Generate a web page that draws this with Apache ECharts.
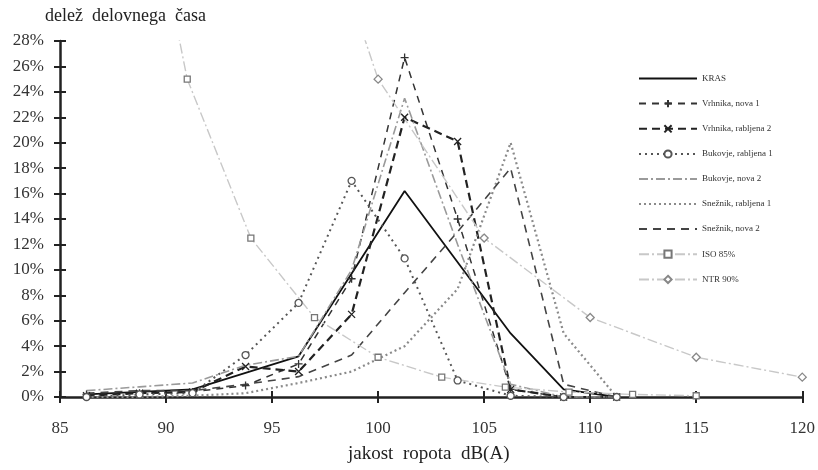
<!DOCTYPE html>
<html>
<head>
<meta charset="utf-8">
<script src="https://cdn.jsdelivr.net/npm/echarts@6/dist/echarts.min.js"></script>
<style>
  html, body { margin: 0; padding: 0; background: #fff; }
  #chart { width: 818px; height: 470px; }
</style>
</head>
<body>
<div id="chart"></div>
<script>
// Sredine razredov jakosti ropota, dB(A)
const razredi = [86.25, 88.75, 91.25, 93.75, 96.25, 98.75, 101.25, 103.75, 106.25, 108.75, 111.25];

// Deleži delovnega časa (%) po razredih; null = ni točke
const kras            = [0.2, null, 0.6, null, 3.2, null, 16.2, null, 5.0, 0.6, 0.0];
const vrhnikaNova1    = [0.2, 0.3, 0.4, 0.9, 2.6, 9.3, 26.7, 14.0, 0.6, 0.0, 0.0];
const vrhnikaRablj2   = [0.1, 0.3, 0.4, 2.4, 2.0, 6.5, 22.0, 20.1, 0.6, 0.0, 0.0];
const bukovjeRablj1   = [0.0, 0.2, 0.3, 3.3, 7.4, 17.0, 10.9, 1.3, 0.1, 0.0, 0.0];
const bukovjeNova2    = [0.5, 0.8, 1.1, 2.5, 3.2, 10.0, 23.5, 12.0, 1.0, 0.0, 0.0];
const sneznikRablj1   = [0.0, 0.0, 0.1, 0.3, 1.1, 2.0, 4.0, 8.5, 20.0, 5.0, 0.0];
const sneznikNova2    = [0.3, 0.5, 0.5, 1.0, 1.6, 3.3, 8.2, 13.0, 18.0, 1.0, 0.0];

// Mejne krivulje (ISO 85 %, NTR 90 %)
const isoX  = [88, 91, 94, 97, 100, 103, 106, 109, 112, 115];
const isoY  = [50, 25, 12.5, 6.25, 3.125, 1.56, 0.78, 0.39, 0.2, 0.1];
const ntrX  = [95, 100, 105, 110, 115, 120];
const ntrY  = [50, 25, 12.5, 6.25, 3.125, 1.5625];

const yTicks = { min: 0, max: 28, interval: 2 };
const xTicks = { min: 85, max: 120, interval: 5 };

const pari = (xs, ys) => xs.map((x, i) => [x, ys[i]]).filter(p => p[1] !== null);

const serif = "'Liberation Serif', 'DejaVu Serif', serif";
const plus  = 'path://M5,0L5,10M0,5L10,5';
const cross = 'path://M0,0L10,10M10,0L0,10';
const clear = 'rgba(0,0,0,0)';

function serija(name, data, color, width, type, symbol, size, markColor) {
  const hasMark = !!symbol;
  const isPath = hasMark && symbol.startsWith('path');
  return {
    name, type: 'line', data,
    connectNulls: true,
    symbol: hasMark ? symbol : 'circle',
    symbolSize: hasMark ? (size || 7) : 0,
    showSymbol: hasMark,
    lineStyle: { color, width, type },
    itemStyle: hasMark
      ? { color: isPath ? clear : '#fff', borderColor: markColor || color, borderWidth: 1.3 }
      : { color: clear, borderColor: clear, borderWidth: 0 },
    emphasis: { disabled: true },
    clip: true,
    z: 3
  };
}

const chart = echarts.init(document.getElementById('chart'), null, { renderer: 'canvas' });

chart.setOption({
  animation: false,
  backgroundColor: '#fff',
  grid: { left: 60, right: 15, top: 41, bottom: 73 },
  graphic: [
    { type: 'text', left: 45, top: 7, style: { text: 'delež  delovnega  časa', font: "18px " + serif, fill: '#222' } },
    { type: 'text', left: 348, top: 445, style: { text: 'jakost  ropota  dB(A)', font: "19px " + serif, fill: '#222' } }
  ],
  legend: {
    orient: 'vertical',
    left: 633, top: 69,
    itemWidth: 58, itemHeight: 9, itemGap: 16,
    textStyle: { fontFamily: serif, fontSize: 9, color: '#333' },
    data: ['KRAS', 'Vrhnika, nova 1', 'Vrhnika, rabljena 2', 'Bukovje, rabljena 1', 'Bukovje, nova 2',
           'Snežnik, rabljena 1', 'Snežnik, nova 2', 'ISO 85%', 'NTR 90%']
  },
  xAxis: [{
    type: 'value', ...xTicks,
    axisLine: { onZero: false, lineStyle: { color: '#222', width: 2.5 } },
    axisTick: { length: 6, lineStyle: { color: '#222', width: 2 } },
    axisLabel: { fontFamily: serif, fontSize: 17, color: '#333', margin: 23 },
    splitLine: { show: false }
  }, {
    type: 'value', ...xTicks, position: 'bottom',
    axisLine: { show: false },
    axisTick: { inside: true, length: 6, lineStyle: { color: '#222', width: 2 } },
    axisLabel: { show: false }, splitLine: { show: false }
  }],
  yAxis: [{
    type: 'value', ...yTicks,
    axisLine: { show: true, lineStyle: { color: '#222', width: 2.5 } },
    axisTick: { show: true, length: 6, lineStyle: { color: '#222', width: 2 } },
    axisLabel: { fontFamily: serif, fontSize: 17, color: '#333', margin: 16, formatter: '{value}%' },
    splitLine: { show: false }
  }, {
    type: 'value', ...yTicks, position: 'left',
    axisLine: { show: false },
    axisTick: { show: true, inside: true, length: 6, lineStyle: { color: '#222', width: 2 } },
    axisLabel: { show: false }, splitLine: { show: false }
  }],
  series: [
    serija('KRAS', pari(razredi, kras), '#111', 1.8, 'solid'),
    serija('Vrhnika, nova 1', pari(razredi, vrhnikaNova1), '#333', 1.5, [7, 6], plus, 8),
    serija('Vrhnika, rabljena 2', pari(razredi, vrhnikaRablj2), '#222', 2.2, [8, 5], cross, 7),
    serija('Bukovje, rabljena 1', pari(razredi, bukovjeRablj1), '#555', 2, [2, 4], 'circle', 7),
    serija('Bukovje, nova 2', pari(razredi, bukovjeNova2), '#9a9a9a', 1.6, [9, 3, 2, 3]),
    serija('Snežnik, rabljena 1', pari(razredi, sneznikRablj1), '#8a8a8a', 2.2, [2, 3]),
    serija('Snežnik, nova 2', pari(razredi, sneznikNova2), '#444', 1.6, [8, 6]),
    serija('ISO 85%', pari(isoX, isoY), '#c8c8c8', 1.4, [10, 3, 2, 3], 'rect', 6, '#777'),
    serija('NTR 90%', pari(ntrX, ntrY), '#c8c8c8', 1.4, [10, 3, 2, 3], 'diamond', 8, '#888')
  ]
});
</script>
</body>
</html>
